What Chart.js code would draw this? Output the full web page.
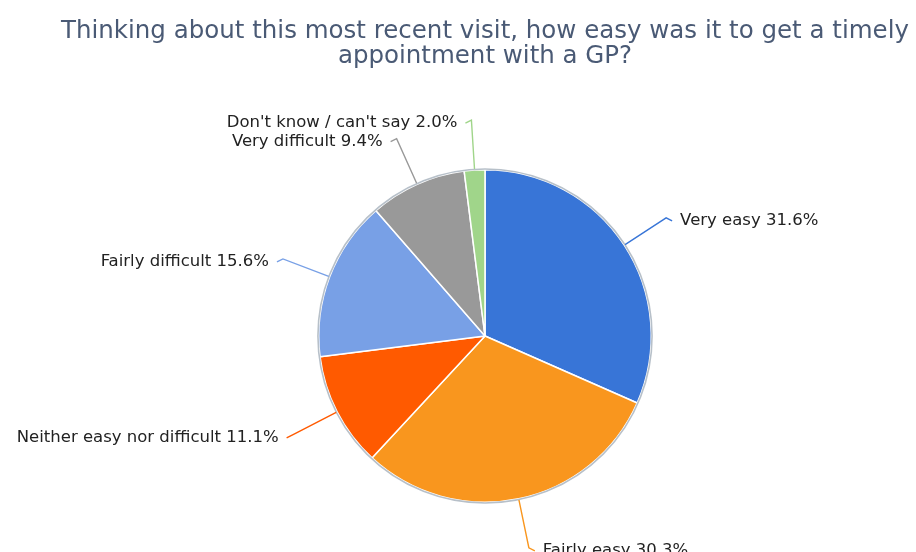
<!DOCTYPE html>
<html>
<head>
<meta charset="utf-8">
<script src="https://cdn.jsdelivr.net/npm/chart.js@4/dist/chart.umd.min.js"></script>
<style>
  html, body { margin: 0; padding: 0; background: #fff; }
  #wrap { width: 916px; height: 552px; }
</style>
</head>
<body>
<div id="wrap"><canvas id="myChart"></canvas></div>
<script>
const categories = ["Very easy", "Fairly easy", "Neither easy nor difficult", "Fairly difficult", "Very difficult", "Don't know / can't say"];
const percents = [31.6, 30.3, 11.1, 15.6, 9.4, 2.0];
const sliceColors = ["#3875d7", "#f9961e", "#ff5a00", "#78a0e6", "#999999", "#a0d58a"];
const titleLines = ["Thinking about this most recent visit, how easy was it to get a timely", "appointment with a GP?"];

// outer rim + leader lines and labels, positioned from the arc elements
const pieLabels = {
    id: 'pieLabels',
    afterDatasetsDraw(chart) {
        const ctx = chart.ctx;
        const arcs = chart.getDatasetMeta(0).data;
        if (!arcs.length) return;
        const cx = arcs[0].x, cy = arcs[0].y, r = arcs[0].outerRadius;

        ctx.save();
        ctx.beginPath();
        ctx.arc(cx, cy, r + 0.8, 0, Math.PI * 2);
        ctx.strokeStyle = "rgba(175,185,195,0.9)";
        ctx.lineWidth = 1.6;
        ctx.stroke();

        ctx.font = "16.5px 'DejaVu Sans'";
        ctx.fillStyle = "#222";
        ctx.textBaseline = "middle";
        arcs.forEach((arc, i) => {
            const mid = (arc.startAngle + arc.endAngle) / 2;
            const cos = Math.cos(mid), sin = Math.sin(mid);
            const x1 = cx + cos * (r + 1), y1 = cy + sin * (r + 1);
            const x2 = cx + cos * (r + 50), y2 = cy + sin * (r + 50);
            const dir = cos >= 0 ? 1 : -1;
            const x3 = x2 + dir * 6, y3 = y2 + 3;
            ctx.beginPath();
            ctx.moveTo(x1, y1);
            ctx.lineTo(x2, y2);
            ctx.lineTo(x3, y3);
            ctx.strokeStyle = sliceColors[i];
            ctx.lineWidth = 1.4;
            ctx.stroke();
            ctx.textAlign = dir > 0 ? "left" : "right";
            ctx.fillText(categories[i] + " " + percents[i].toFixed(1) + "%", x3 + dir * 8, y3);
        });
        ctx.restore();
    }
};

const ctx = document.getElementById("myChart");
new Chart(ctx, {
    type: 'pie',
    data: {
        labels: categories,
        datasets: [{
            data: percents,
            backgroundColor: sliceColors,
            borderColor: "#ffffff",
            borderWidth: 1.5,
            hoverOffset: 0
        }]
    },
    options: {
        responsive: true,
        maintainAspectRatio: false,
        animation: false,
        layout: { padding: { left: 54, right: 0, top: 0, bottom: 49 } },
        plugins: {
            legend: { display: false },
            tooltip: { enabled: false },
            title: {
                display: true,
                text: titleLines,
                color: "#4a5a75",
                font: { family: "'DejaVu Sans'", size: 24.5, weight: 'normal', lineHeight: 1.02 },
                padding: { top: 19, bottom: 100 }
            }
        }
    },
    plugins: [pieLabels]
});
</script>
</body>
</html>
